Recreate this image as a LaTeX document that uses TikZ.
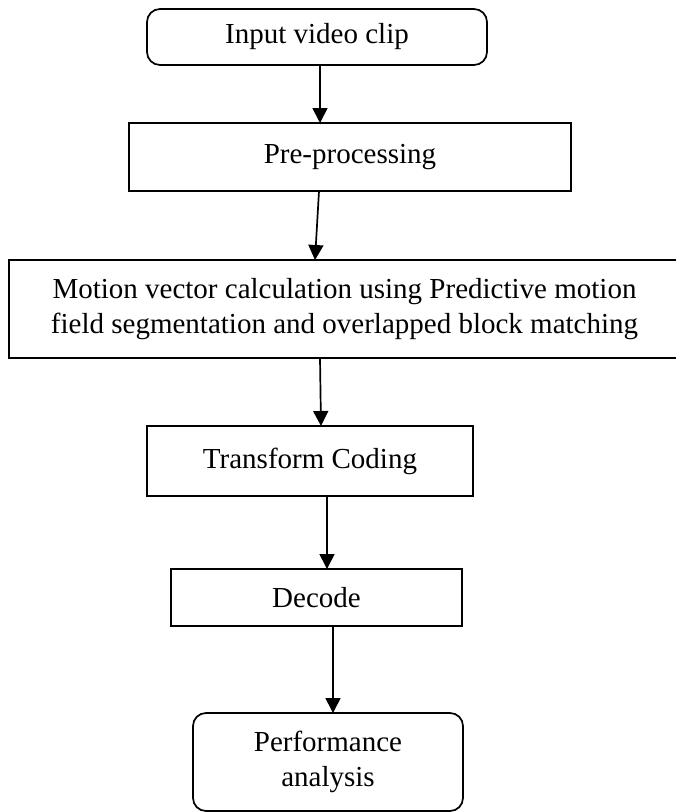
\documentclass[tikz,border=0pt]{standalone}
\usepackage{fontspec}
\setmainfont{Liberation Serif}
\usetikzlibrary{arrows.meta}
\begin{document}
\begin{tikzpicture}[x=1pt,y=-1pt,
  every node/.style={inner sep=0pt, outer sep=0pt, font=\fontsize{29}{35.5}\selectfont, align=center},
  procbox/.style={draw, line width=1.7pt, rectangle},
  termbox/.style={draw, line width=1.7pt, rectangle, rounded corners=13pt},
  arr/.style={line width=1.7pt, -{Triangle[length=15pt,width=15pt]}}]
  \useasboundingbox (0,0) rectangle (676,812);
  % process boxes, top to bottom
  \node[termbox, minimum width=340pt, minimum height=56pt] (n1) at (317,37) {Input video clip};
  \node[procbox, minimum width=442pt, minimum height=68pt] (n2) at (350,157) {Pre-processing};
  \node[procbox, minimum width=671pt, minimum height=98pt] (n3) at (344.5,309)
    {Motion vector calculation using Predictive motion\\field segmentation and overlapped block matching};
  \node[procbox, minimum width=326pt, minimum height=70pt] (n4) at (310,461) {Transform Coding};
  \node[procbox, minimum width=291pt, minimum height=57pt] (n5) at (316.5,597.5) {Decode};
  \node[termbox, minimum width=270pt, minimum height=98pt] (n6) at (328,762) {Performance\\analysis};
  % connectors
  \draw[arr] ([xshift=3pt]n1.south) -- ([xshift=-30pt]n2.north);
  \draw[arr] ([xshift=-31pt]n2.south) -- ([xshift=-29.5pt]n3.north);
  \draw[arr] ([xshift=-24.5pt]n3.south) -- ([xshift=11pt]n4.north);
  \draw[arr] ([xshift=17pt]n4.south) -- ([xshift=10.5pt]n5.north);
  \draw[arr] ([xshift=16.5pt]n5.south) -- ([xshift=5pt]n6.north);
\end{tikzpicture}
\end{document}
